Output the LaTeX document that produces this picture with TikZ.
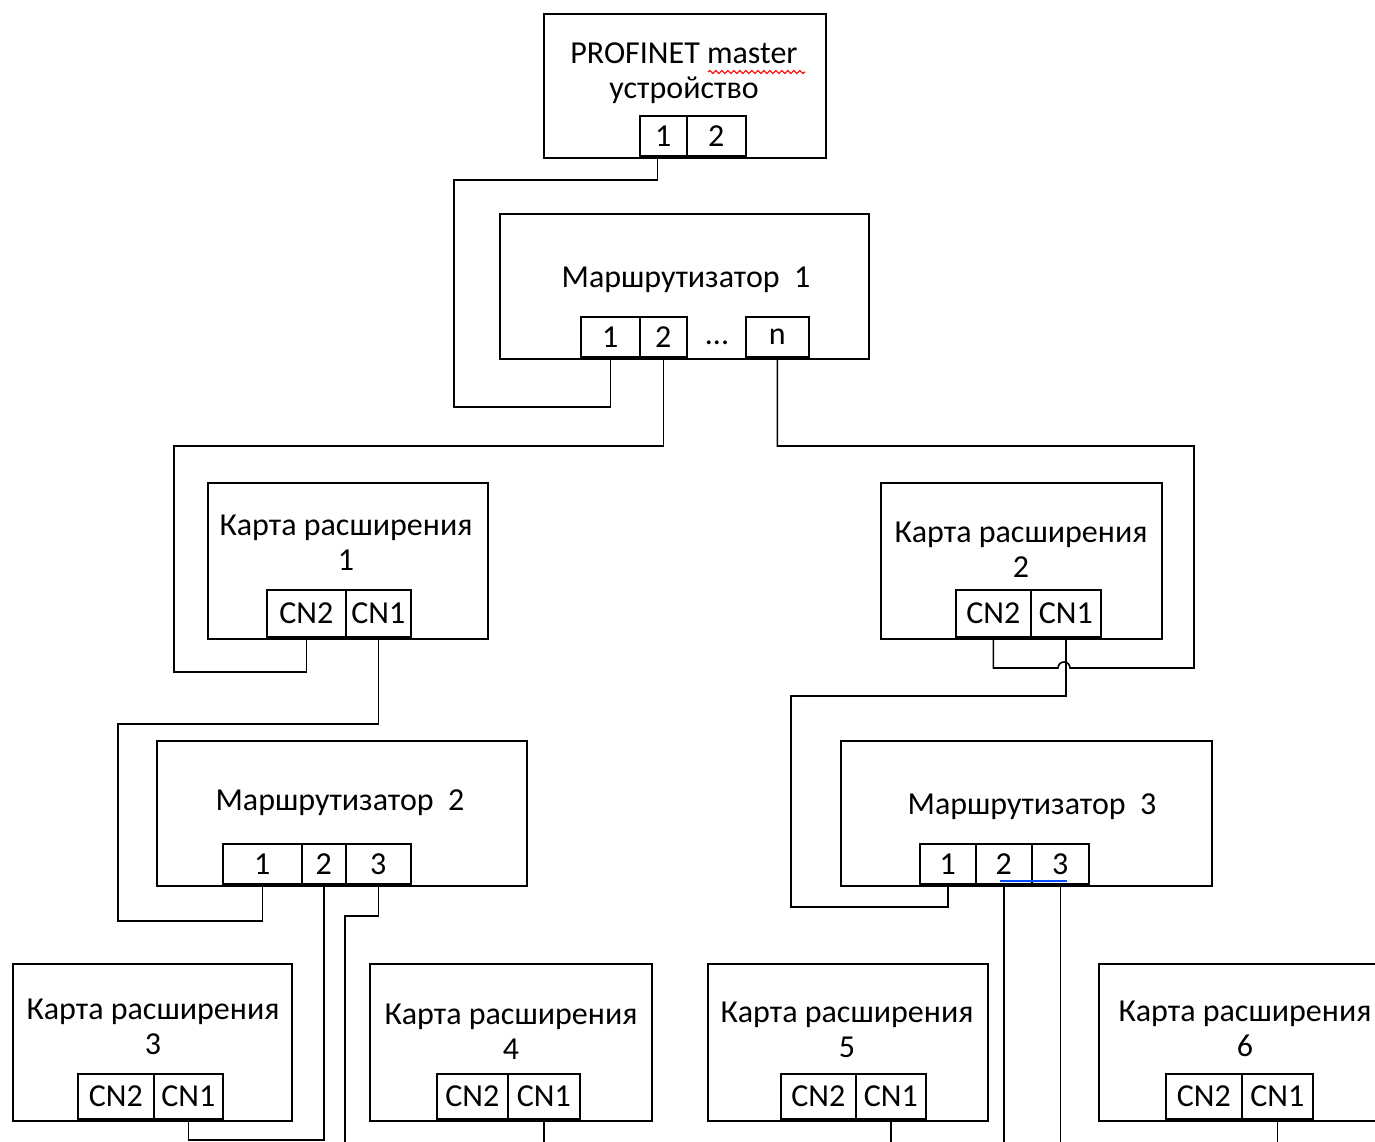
\documentclass[tikz,border=0pt]{standalone}
\usepackage{fontspec}
\setmainfont{Carlito}
\usepackage{xcolor}
\usetikzlibrary{positioning,decorations.pathmorphing}

\tikzset{
	dev/.style={draw, line width=1.6pt, inner sep=0pt, anchor=north west},
	prt/.style={draw, line width=1.6pt, inner sep=0pt, anchor=south west, font=\fontsize{32}{35}\selectfont},
	lbl/.style={align=center, inner sep=0pt, font=\fontsize{32}{35}\selectfont},
	wire/.style={line width=1.6pt},
}

\begin{document}
\begin{tikzpicture}[x=1pt,y=-1pt]
	\useasboundingbox (0,0) rectangle (1375,1142);
	\clip (0,0) rectangle (1375,1142);
	% master
	\node[dev, minimum width=282, minimum height=144] (m) at (543,13) {};
	\node[lbl] (mt) at (684,73) {PROFINET master\\устройство};
	\node[prt, minimum width=47, minimum height=40] (mp1) at (639,157) {1};
	\node[prt, minimum width=59, minimum height=40] (mp2) at (686,157) {2};
	% routers
	\node[dev, minimum width=369, minimum height=145] (r1) at (499,213) {};
	\node[lbl] (r1t) at (686,280) {Маршрутизатор\ \ 1};
	\node[prt, minimum width=59, minimum height=40] (r1p1) at (580,358) {1};
	\node[prt, minimum width=47, minimum height=40] (r1p2) at (639,358) {2};
	\node[lbl] (r1dots) at (717,343) {...};
	\node[prt, minimum width=63, minimum height=40] (r1pn) at (745,358) {n};

	\node[dev, minimum width=370, minimum height=145] (r2) at (156,740) {};
	\node[lbl] (r2t) at (340,803) {Маршрутизатор\ \ 2};
	\node[prt, minimum width=79, minimum height=40] (r2p1) at (222,885) {1};
	\node[prt, minimum width=44, minimum height=40] (r2p2) at (301,885) {2};
	\node[prt, minimum width=65, minimum height=40] (r2p3) at (345,885) {3};

	\node[dev, minimum width=371, minimum height=145] (r3) at (840,740) {};
	\node[lbl] (r3t) at (1032,807) {Маршрутизатор\ \ 3};
	\node[prt, minimum width=56, minimum height=40] (r3p1) at (919,885) {1};
	\node[prt, minimum width=56, minimum height=40] (r3p2) at (975,885) {2};
	\node[prt, minimum width=57, minimum height=40] (r3p3) at (1031,885) {3};
	% cards
	\node[dev, minimum width=280, minimum height=156] (c1) at (207,482) {};
	\node[lbl] (c1t) at (346,543) {Карта расширения\\1};
	\node[prt, minimum width=79, minimum height=47] (c1n2) at (266,638) {CN2};
	\node[prt, minimum width=65, minimum height=47] (c1n1) at (345,638) {CN1};

	\node[dev, minimum width=281, minimum height=156] (c2) at (880,482) {};
	\node[lbl] (c2t) at (1021,550) {Карта расширения\\2};
	\node[prt, minimum width=75, minimum height=47] (c2n2) at (955,638) {CN2};
	\node[prt, minimum width=70, minimum height=47] (c2n1) at (1030,638) {CN1};

	\node[dev, minimum width=279, minimum height=157] (c3) at (12,963) {};
	\node[lbl] (c3t) at (153,1027) {Карта расширения\\3};
	\node[prt, minimum width=76, minimum height=45] (c3n2) at (77,1120) {CN2};
	\node[prt, minimum width=69, minimum height=45] (c3n1) at (153,1120) {CN1};

	\node[dev, minimum width=282, minimum height=157] (c4) at (369,963) {};
	\node[lbl] (c4t) at (511,1032) {Карта расширения\\4};
	\node[prt, minimum width=71, minimum height=45] (c4n2) at (436,1120) {CN2};
	\node[prt, minimum width=72, minimum height=45] (c4n1) at (507,1120) {CN1};

	\node[dev, minimum width=280, minimum height=157] (c5) at (707,963) {};
	\node[lbl] (c5t) at (847,1030) {Карта расширения\\5};
	\node[prt, minimum width=75, minimum height=45] (c5n2) at (780,1120) {CN2};
	\node[prt, minimum width=70, minimum height=45] (c5n1) at (855,1120) {CN1};

	\node[dev, minimum width=300, minimum height=157] (c6) at (1098,963) {};
	\node[lbl] (c6t) at (1245,1029) {Карта расширения\\6};
	\node[prt, minimum width=76, minimum height=45] (c6n2) at (1165,1120) {CN2};
	\node[prt, minimum width=71, minimum height=45] (c6n1) at (1241,1120) {CN1};
	% free ends at the bottom edge
	\coordinate (e1) at (345,1150);
	% cables
	\draw[wire] ([xshift=-6]mp1.south) -- ++(0,23) -| (454,407) -| (r1p1.south);
	\draw[wire] (r1p2.south) |- (174,446) |- ([yshift=-34]c1n2.south) -- (c1n2.south);
	\draw[wire] (r1pn.south) |- (1194,446) |- (1070,668)
		arc[start angle=0, end angle=180, radius=6pt] -| (c2n2.south);
	\draw[wire] (c1n1.south) |- (118,724) |- ([yshift=-36]r2p1.south) -- (r2p1.south);
	\draw[wire] (c2n1.south) |- (791,696) |- ([yshift=-22]r3p1.south) -- (r3p1.south);
	\draw[wire] (r2p2.south) |- ([yshift=-20]c3n1.south) -- (c3n1.south);
	\draw[wire] (r2p3.south) -- ++(0,31) -| (e1);
	\draw[wire] (c4n1.south) -- ++(0,30);
	\draw[wire] (r3p2.south) -- ++(0,270);
	\draw[wire] (r3p3.south) -- ++(0,270);
	\draw[wire] (c5n1.south) -- ++(0,30);
	\draw[wire] (c6n1.south) -- ++(0,30);
	% spell check marks
	\draw[red, line width=1.2pt, decorate, decoration={snake, amplitude=1.5pt, segment length=6pt}] (708,72) -- (805,72);
	\draw[blue!70!cyan, line width=2pt] (1000,880.5) -- (1067,880.5);
\end{tikzpicture}
\end{document}
